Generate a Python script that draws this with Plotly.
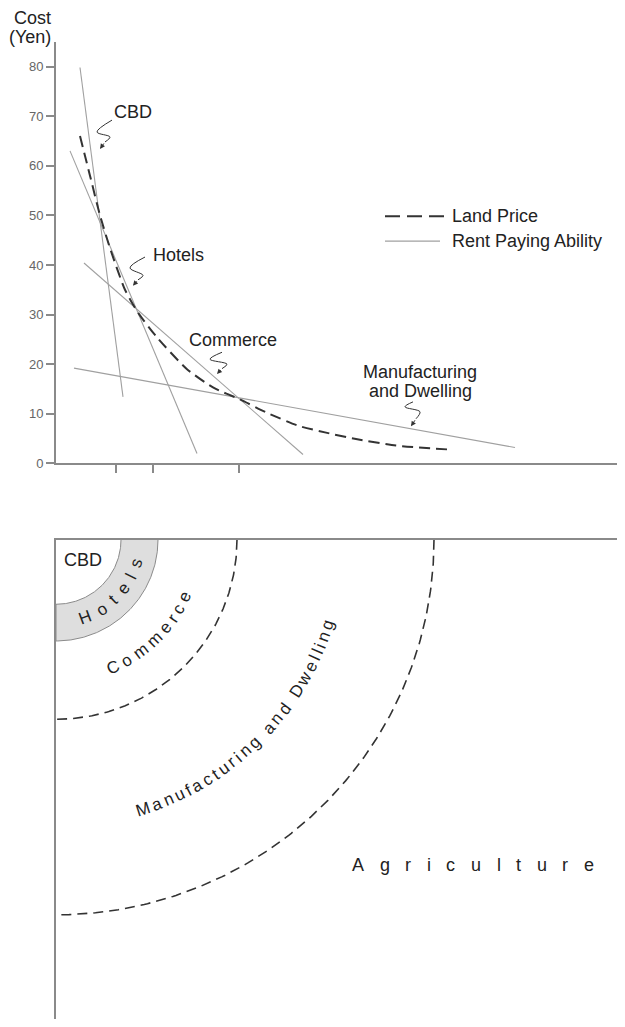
import math
import numpy as np
import plotly.graph_objects as go

# ---------------- data: top chart (distance units, cost in yen) ----------------
cbd_x = [2.4, 6.7]
cbd_y = [79.8, 13.4]
hotels_x = [1.4, 14.1]
hotels_y = [63.0, 2.0]
commerce_x = [2.8, 24.7]
commerce_y = [40.4, 1.8]
manuf_x = [1.8, 45.9]
manuf_y = [19.2, 3.2]
land_x = [2.4, 3.4, 4.4, 5.4, 6.9, 8.2, 10.1, 13.1, 15.7, 18.4, 21.0, 24.2, 27.0, 30.0, 34.0, 39.3]
land_y = [66.0, 58.0, 50.0, 43.4, 35.0, 30.4, 25.4, 19.0, 15.3, 12.9, 10.3, 7.6, 6.2, 4.9, 3.6, 2.8]
y_ticks = [0, 10, 20, 30, 40, 50, 60, 70, 80]
x_ticks = [6.0, 9.7, 18.3]

# ---------------- data: bottom chart (zone radii) ----------------
zone_names = ["CBD", "Hotels", "Commerce", "Manufacturing and Dwelling", "Agriculture"]
cbd_r = 65
hotels_r = 102
commerce_r = 181
manuf_r = 378

FONT = "Liberation Sans, Arial, Helvetica, sans-serif"
DARK = "#333333"
GRAY = "#a0a0a0"
AXIS = "#8a8a8a"
TXT = "#222222"

# page body has an 8px margin; size the figure so it fits the 625x1027 window
M = 8
W, H = 625 - M, 1027 - M
L_PX = 56 - M
TOP_Y0, TOP_Y1 = 42 - M, 467 - M    # top plot area (px within figure)
BOT_Y0 = 544 - M                    # bottom box top (px within figure)

fig = go.Figure()

# rent paying ability lines
for xs, ys in [(cbd_x, cbd_y), (hotels_x, hotels_y), (commerce_x, commerce_y), (manuf_x, manuf_y)]:
    fig.add_trace(go.Scatter(x=xs, y=ys, mode="lines", line=dict(color=GRAY, width=1.1),
                             showlegend=False, hoverinfo="skip", xaxis="x", yaxis="y"))
# land price
fig.add_trace(go.Scatter(x=land_x, y=land_y, mode="lines",
                         line=dict(color=DARK, width=2, dash="11px,6px", shape="spline", smoothing=0.6),
                         showlegend=False, hoverinfo="skip", xaxis="x", yaxis="y"))

annotations = []
shapes = []

# squiggle arrows for labels (data coords of the top chart)
squiggles = [
    [(5.6, 69.2), (4.1, 66.8), (5.4, 65.8), (4.9, 64.8)],
    [(8.9, 41.6), (7.4, 39.4), (8.7, 37.9), (8.2, 37.0)],
    [(16.6, 22.4), (15.4, 21.0), (17.1, 20.0), (16.6, 19.1)],
    [(35.7, 12.4), (34.9, 11.4), (36.4, 10.4), (36.0, 9.0)],
]
tips = [(4.4, 63.4), (7.7, 35.8), (16.1, 18.0), (35.5, 7.5)]
for pts, tip in zip(squiggles, tips):
    fig.add_trace(go.Scatter(x=[p[0] for p in pts], y=[p[1] for p in pts], mode="lines",
                             line=dict(color=DARK, width=1, shape="spline"),
                             showlegend=False, hoverinfo="skip", xaxis="x", yaxis="y"))
    annotations.append(dict(x=tip[0], y=tip[1], ax=pts[-1][0], ay=pts[-1][1], xref="x", yref="y",
                            axref="x", ayref="y", text="", showarrow=True, arrowhead=2,
                            arrowsize=1, arrowwidth=1, arrowcolor=DARK))

lab_font = dict(family=FONT, size=18, color=TXT)
annotations += [
    dict(x=7.7, y=70.8, text="CBD", xref="x", yref="y", showarrow=False, font=lab_font),
    dict(x=12.2, y=42.0, text="Hotels", xref="x", yref="y", showarrow=False, font=lab_font),
    dict(x=17.7, y=24.8, text="Commerce", xref="x", yref="y", showarrow=False, font=lab_font),
    dict(x=36.4, y=18.4, text="Manufacturing", xref="x", yref="y", showarrow=False, font=lab_font),
    dict(x=36.4, y=14.6, text="and Dwelling", xref="x", yref="y", showarrow=False, font=lab_font),
    dict(x=51.9, y=-4.0, text="D i s t a n c e".replace(" ", "\u200a"), xref="x", yref="y",
         showarrow=False, font=dict(family=FONT, size=18, color=TXT)),
    dict(x=(53 - M) / W, y=1 - (18 - M) / H, text="Cost", xref="paper", yref="paper",
         showarrow=False, xanchor="right", yanchor="middle", font=lab_font),
    dict(x=(53 - M) / W, y=1 - (37 - M) / H, text="(Yen)", xref="paper", yref="paper",
         showarrow=False, xanchor="right", yanchor="middle", font=lab_font),
]

# manual legend
shapes.append(dict(type="line", xref="x", yref="y", x0=32.9, x1=38.9, y0=49.8, y1=49.8,
                   line=dict(color=DARK, width=2, dash="15px,7px")))
shapes.append(dict(type="line", xref="x", yref="y", x0=32.9, x1=38.4, y0=44.8, y1=44.8,
                   line=dict(color=GRAY, width=1.1)))
annotations += [
    dict(x=39.4, y=49.8, text="Land Price", xref="x", yref="y", showarrow=False, xanchor="left",
         font=lab_font),
    dict(x=39.4, y=44.8, text="Rent Paying Ability", xref="x", yref="y", showarrow=False,
         xanchor="left", font=lab_font),
]

# ---------------- bottom chart ----------------
th = np.radians(np.linspace(0, 90, 181))
# hotels annulus
ox = hotels_r * np.cos(th); oy = hotels_r * np.sin(th)
ix = cbd_r * np.cos(th[::-1]); iy = cbd_r * np.sin(th[::-1])
fig.add_trace(go.Scatter(x=np.concatenate([ox, ix]), y=np.concatenate([oy, iy]), mode="lines",
                         fill="toself", fillcolor="#dedede", line=dict(color=AXIS, width=1),
                         showlegend=False, hoverinfo="skip", xaxis="x2", yaxis="y2"))
for r in [commerce_r, manuf_r]:
    fig.add_trace(go.Scatter(x=r * np.cos(th), y=r * np.sin(th), mode="lines",
                             line=dict(color=DARK, width=1.6, dash="10px,6px"),
                             showlegend=False, hoverinfo="skip", xaxis="x2", yaxis="y2"))

CW = {" ": 278, "A": 667, "B": 667, "C": 722, "D": 722, "H": 722, "M": 833, "a": 556, "c": 500,
      "d": 556, "e": 556, "f": 278, "g": 556, "i": 222, "l": 222, "m": 833, "n": 556, "o": 556,
      "r": 333, "s": 500, "t": 278, "u": 556, "w": 722}


def spaced_offsets(word, size, total):
    w = [CW[c] * size / 1000 for c in word]
    cum = [0.0]
    for i in range(1, len(word)):
        cum.append(cum[-1] + (w[i - 1] + w[i]) / 2)
    extra = (total - cum[-1]) / (len(word) - 1)
    return [cum[i] + extra * i for i in range(len(word))]


def arc_text(word, r, th0, th1, size):
    total = math.radians(th0 - th1) * r
    offs = spaced_offsets(word, size, total)
    for c, s in zip(word, offs):
        if c == " ":
            continue
        t = th0 - math.degrees(s / r)
        annotations.append(dict(x=r * math.cos(math.radians(t)), y=r * math.sin(math.radians(t)),
                                xref="x2", yref="y2", text=c, showarrow=False, textangle=t - 90,
                                xanchor="center", yanchor="middle",
                                font=dict(family=FONT, size=size, color=TXT)))


annotations.append(dict(x=27, y=20, xref="x2", yref="y2", text=zone_names[0], showarrow=False,
                        font=dict(family=FONT, size=18, color=TXT)))
arc_text(zone_names[1], 83.5, 69.6, 16.5, 17)
arc_text(zone_names[2], 141, 66.0, 24.0, 17)
arc_text(zone_names[3], 285, 72.3, 17.5, 17)
# Agriculture: letter-spaced straight text
agr = zone_names[4]
offs = spaced_offsets(agr, 18, 533 - 302)
for c, s in zip(agr, offs):
    annotations.append(dict(x=302 + s, y=328, xref="x2", yref="y2", text=c, showarrow=False,
                            xanchor="center", yanchor="middle",
                            font=dict(family=FONT, size=18, color=TXT)))

fig.update_layout(
    width=W, height=H, margin=dict(l=0, r=0, t=0, b=0),
    paper_bgcolor="white", plot_bgcolor="white", showlegend=False,
    xaxis=dict(domain=[L_PX / W, 1], range=[0, (W - L_PX) / 10], anchor="y",
               showgrid=False, zeroline=False, showline=True, linecolor=AXIS, linewidth=2,
               tickmode="array", tickvals=x_ticks, showticklabels=False,
               ticks="outside", ticklen=8, tickcolor=AXIS, tickwidth=1.5),
    yaxis=dict(domain=[1 - TOP_Y1 / H, 1 - TOP_Y0 / H], range=[0, (TOP_Y1 - TOP_Y0) / 5],
               anchor="x", showgrid=False, zeroline=False, showline=True, linecolor=AXIS,
               linewidth=2, tickmode="array", tickvals=y_ticks, ticks="outside", ticklen=8,
               tickcolor=AXIS, tickwidth=1.5,
               tickfont=dict(family=FONT, size=13, color="#666666")),
    xaxis2=dict(domain=[L_PX / W, 1], range=[0, W - L_PX], anchor="y2", side="top",
                showgrid=False, zeroline=False, showline=True, linecolor=AXIS, linewidth=2,
                showticklabels=False, ticks=""),
    yaxis2=dict(domain=[0, 1 - BOT_Y0 / H], range=[H - BOT_Y0, 0], anchor="x2",
                showgrid=False, zeroline=False, showline=True, linecolor=AXIS, linewidth=2,
                showticklabels=False, ticks=""),
    annotations=annotations, shapes=shapes,
)

fig.write_html("out.html")
